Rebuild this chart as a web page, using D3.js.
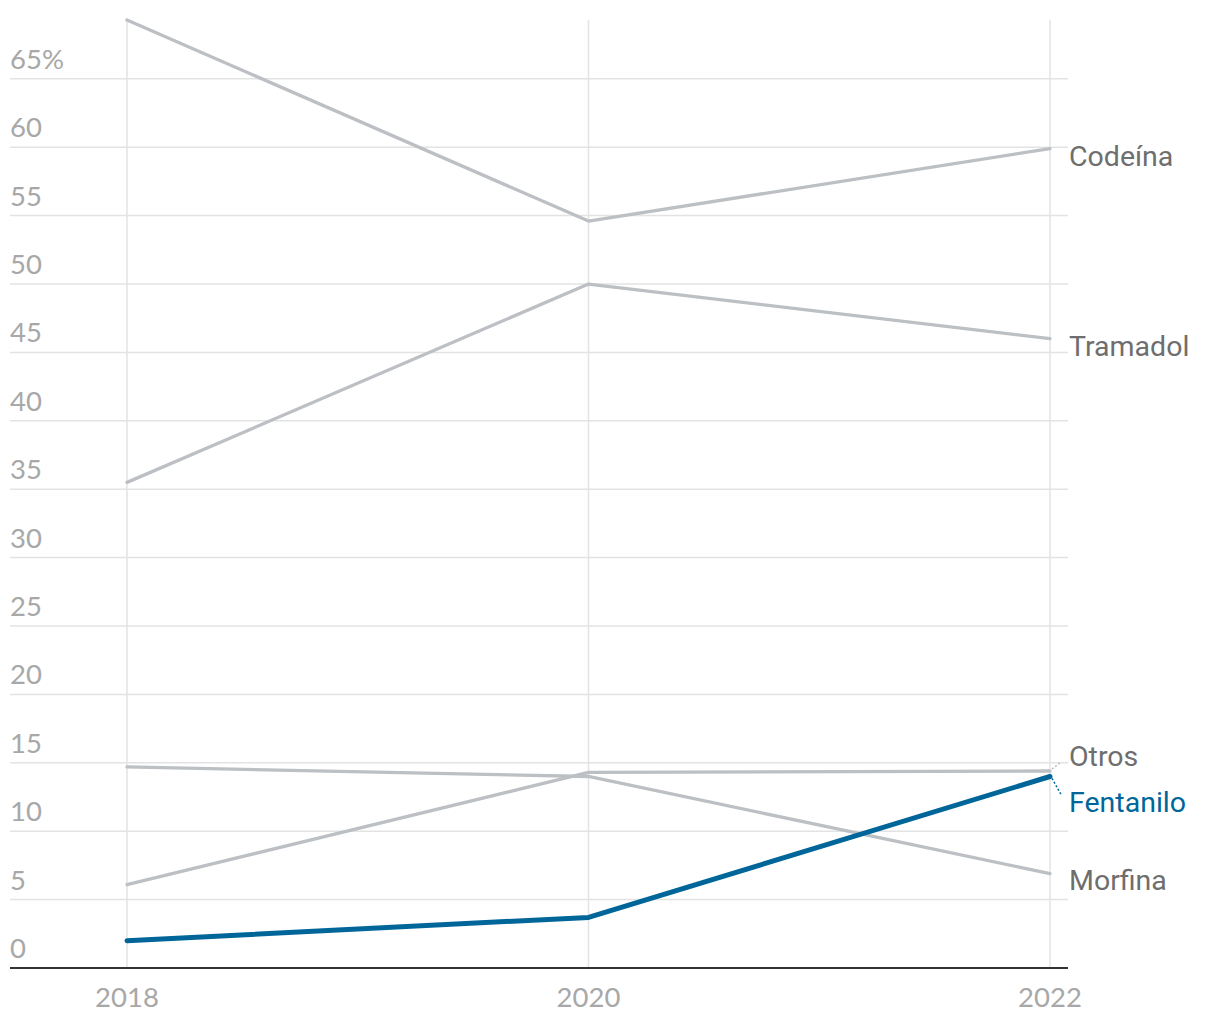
<!DOCTYPE html>
<html><head><meta charset="utf-8">
<script src="https://cdn.jsdelivr.net/npm/d3@7"></script>
<style>body{margin:0;background:#fff}</style>
</head><body>
<svg id="c" width="1220" height="1020"></svg>
<script>
const years = [2018, 2020, 2022];
const names = ["Codeína", "Tramadol", "Otros", "Morfina", "Fentanilo"];
const codeina = [69.3, 54.6, 59.9];
const tramadol = [35.5, 50.0, 46.0];
const otros = [6.1, 14.3, 14.4];
const morfina = [14.7, 14.0, 6.9];
const fentanilo = [2.0, 3.7, 14.0];
const yTicks = [0, 5, 10, 15, 20, 25, 30, 35, 40, 45, 50, 55, 60, 65];

const seriesVals = [codeina, tramadol, otros, morfina, fentanilo];
const labelOffsets = [7, 7, -15, 6, 26];

const svg = d3.select("#c");
const x = d3.scaleLinear().domain([2018, 2022]).range([127, 1050]);
const y = d3.scaleLinear().domain([0, d3.max(codeina)]).range([968, 20]);

svg.append("g").selectAll("line").data(yTicks.filter(d => d > 0)).join("line")
  .attr("x1", 10).attr("x2", 1068).attr("y1", d => y(d)).attr("y2", d => y(d))
  .attr("stroke", "#e3e3e3").attr("stroke-width", 1.5);
svg.append("g").selectAll("line").data(years).join("line")
  .attr("x1", d => x(d)).attr("x2", d => x(d)).attr("y1", y.range()[1]).attr("y2", 968)
  .attr("stroke", "#e3e3e3").attr("stroke-width", 1.5);
svg.append("g").selectAll("text").data(yTicks).join("text")
  .attr("x", 10).attr("y", d => y(d) - 10)
  .attr("font-family", "Lato, 'Open Sans', sans-serif").attr("font-size", 27.5)
  .attr("fill", "#a8a8a8")
  .text(d => d === 65 ? "65%" : d);
svg.append("line").attr("x1", 10).attr("x2", 1068).attr("y1", y(0)).attr("y2", y(0))
  .attr("stroke", "#333").attr("stroke-width", 2);
svg.append("g").selectAll("text").data(years).join("text")
  .attr("x", d => x(d)).attr("y", 1007).attr("text-anchor", "middle")
  .attr("font-family", "Lato, 'Open Sans', sans-serif").attr("font-size", 27.5)
  .attr("fill", "#a8a8a8").text(d => d);

const line = d3.line().x((d, i) => x(years[i])).y(d => y(d));
const gray = "#bcc0c4", blue = "#006699";
seriesVals.forEach((vals, k) => {
  const isF = names[k] === "Fentanilo";
  svg.append("path").datum(vals).attr("d", line).attr("fill", "none")
    .attr("stroke", isF ? blue : gray).attr("stroke-width", isF ? 5 : 3.3)
    .attr("stroke-linejoin", "round").attr("stroke-linecap", "round");
});
seriesVals.forEach((vals, k) => {
  const isF = names[k] === "Fentanilo";
  const ly = y(vals[2]) + labelOffsets[k];
  svg.append("text").attr("x", 1069).attr("y", ly).attr("dy", "0.35em")
    .attr("font-family", "Roboto, 'Noto Sans', sans-serif").attr("font-size", 28.5)
    .attr("fill", isF ? blue : "#6e6e6e").text(names[k]);
  if (names[k] === "Otros" || isF) {
    const ey = y(vals[2]);
    svg.append("line").attr("x1", x(2022) + 2).attr("y1", ey + (isF ? 2 : -2))
      .attr("x2", x(2022) + 11).attr("y2", ly + (isF ? -8 : 6))
      .attr("stroke", isF ? blue : gray).attr("stroke-width", 1.5)
      .attr("stroke-dasharray", "2,2");
  }
});
</script>
</body></html>
